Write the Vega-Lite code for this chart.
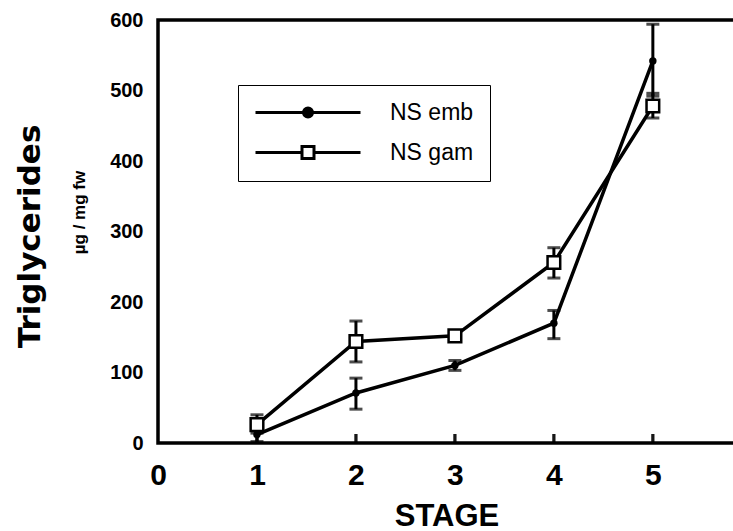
{
  "$schema": "https://vega.github.io/schema/vega-lite/v6.json",
  "autosize": {"type": "none"},
  "width": 577,
  "height": 423,
  "padding": {"left": 158, "top": 20, "right": 0, "bottom": 88},
  "background": "white",
  "config": {
    "view": {"stroke": "black", "strokeWidth": 3.5},
    "font": "Liberation Sans"
  },
  "data": {
    "values": [
      {"stage": 1, "series": "NS emb", "mean": 12, "lo": 2, "hi": 22},
      {"stage": 2, "series": "NS emb", "mean": 71, "lo": 48, "hi": 92},
      {"stage": 3, "series": "NS emb", "mean": 110, "lo": 103, "hi": 117},
      {"stage": 4, "series": "NS emb", "mean": 170, "lo": 148, "hi": 188},
      {"stage": 5, "series": "NS emb", "mean": 542, "lo": 492, "hi": 594},
      {"stage": 1, "series": "NS gam", "mean": 26, "lo": 14, "hi": 40},
      {"stage": 2, "series": "NS gam", "mean": 144, "lo": 115, "hi": 173},
      {"stage": 3, "series": "NS gam", "mean": 152, "lo": 148, "hi": 156},
      {"stage": 4, "series": "NS gam", "mean": 256, "lo": 234, "hi": 277},
      {"stage": 5, "series": "NS gam", "mean": 478, "lo": 461, "hi": 496}
    ]
  },
  "encoding": {
    "x": {
      "field": "stage", "type": "quantitative",
      "scale": {"domain": [0, 5.83], "nice": false, "zero": false},
      "axis": {
        "values": [0, 1, 2, 3, 4, 5], "format": "d", "grid": false, "domain": false,
        "ticks": false,
        "labelPadding": 17, "labelFontSize": 30, "labelFontWeight": "bold", "labelColor": "black",
        "labelFont": "Liberation Sans", "labelFlush": false,
        "title": "STAGE", "titleFontSize": 31, "titleFontWeight": "bold", "titleColor": "black",
        "titleFont": "Liberation Sans", "titleBaseline": "alphabetic", "titleY": 82
      }
    }
  },
  "layer": [
    {
      "mark": {"type": "rule", "color": "black", "strokeWidth": 3},
      "encoding": {
        "y": {"field": "lo", "type": "quantitative", "scale": {"domain": [0, 600], "nice": false},
          "axis": {
            "values": [0, 100, 200, 300, 400, 500, 600], "grid": false, "domain": false,
            "ticks": false,
            "labelPadding": 15, "labelFontSize": 20, "labelFontWeight": "bold", "labelColor": "black",
            "labelFont": "Liberation Sans", "labelFlush": false,
            "title": "Triglycerides", "titleFontSize": 31, "titleFontWeight": "bold", "titleColor": "black",
            "titleFont": "DejaVu Sans", "titleAngle": -90, "titleBaseline": "middle", "titleX": -128, "titleY": 216
          }
        },
        "y2": {"field": "hi"}
      }
    },
    {
      "mark": {"type": "tick", "orient": "horizontal", "color": "black", "size": 13, "thickness": 3},
      "encoding": {"y": {"field": "lo", "type": "quantitative", "axis": null}}
    },
    {
      "mark": {"type": "tick", "orient": "horizontal", "color": "black", "size": 13, "thickness": 3},
      "encoding": {"y": {"field": "hi", "type": "quantitative", "axis": null}}
    },
    {
      "mark": {"type": "tick", "orient": "vertical", "color": "black", "size": 9, "thickness": 3, "yOffset": -4.5},
      "encoding": {"y": {"datum": 0, "type": "quantitative", "axis": null}}
    },
    {
      "data": {"values": [{"v": 100}, {"v": 200}, {"v": 300}, {"v": 400}, {"v": 500}]},
      "mark": {"type": "tick", "orient": "horizontal", "color": "black", "size": 9, "thickness": 3, "xOffset": 4.5},
      "encoding": {
        "x": {"datum": 0, "type": "quantitative"},
        "y": {"field": "v", "type": "quantitative", "axis": null}
      }
    },
    {
      "mark": {"type": "line", "color": "black", "strokeWidth": 3.5},
      "encoding": {
        "y": {"field": "mean", "type": "quantitative", "axis": null},
        "detail": {"field": "series"}
      }
    },
    {
      "transform": [{"filter": "datum.series === 'NS emb'"}],
      "mark": {"type": "point", "shape": "circle", "filled": true, "color": "black", "opacity": 1, "size": 55},
      "encoding": {"y": {"field": "mean", "type": "quantitative", "axis": null}}
    },
    {
      "transform": [{"filter": "datum.series === 'NS gam'"}],
      "mark": {"type": "point", "shape": "square", "filled": false, "fill": "white", "stroke": "black", "strokeWidth": 2.5, "opacity": 1, "size": 160},
      "encoding": {"y": {"field": "mean", "type": "quantitative", "axis": null}}
    },
    {
      "transform": [{"filter": "datum.stage > 100"}],
      "mark": {"type": "point", "filled": false, "strokeWidth": 3, "opacity": 1, "size": 400},
      "encoding": {
        "y": {"field": "mean", "type": "quantitative", "axis": null},
        "shape": {"field": "series", "type": "nominal",
          "scale": {"domain": ["NS emb", "NS gam"], "range": [
            "M-1,0H9.5M4.25,-0.45A0.45,0.45 0 1 1 4.25,0.45A0.45,0.45 0 1 1 4.25,-0.45Z",
            "M-1,0H3.65M4.85,0H9.5M3.65,-0.6H4.85V0.6H3.65Z"]},
          "legend": {
            "title": null, "orient": "none", "legendX": 80, "legendY": 65,
            "padding": 16, "strokeColor": "black", "symbolSize": 400,
            "symbolStrokeWidth": 3, "symbolStrokeColor": "black",
            "labelFontSize": 23, "labelColor": "black", "labelFont": "Liberation Sans",
            "labelOffset": 113, "rowPadding": 15
          }
        },
        "fill": {"field": "series", "type": "nominal",
          "scale": {"domain": ["NS emb", "NS gam"], "range": ["black", "white"]}},
        "stroke": {"field": "series", "type": "nominal",
          "scale": {"domain": ["NS emb", "NS gam"], "range": ["black", "black"]}}
      }
    },
    {
      "mark": {"type": "text", "opacity": 0},
      "encoding": {
        "y": {"field": "mean", "type": "quantitative",
          "axis": {
            "orient": "left", "labels": false, "ticks": false, "domain": false, "grid": false,
            "title": "µg / mg fw", "titleFontSize": 17, "titleFontWeight": "bold", "titleColor": "black",
            "titleFont": "Liberation Sans", "titleAngle": -90, "titleBaseline": "middle", "titleX": -79, "titleY": 192
          }
        },
        "text": {"value": ""}
      }
    }
  ],
  "resolve": {"axis": {"y": "independent"}}
}
